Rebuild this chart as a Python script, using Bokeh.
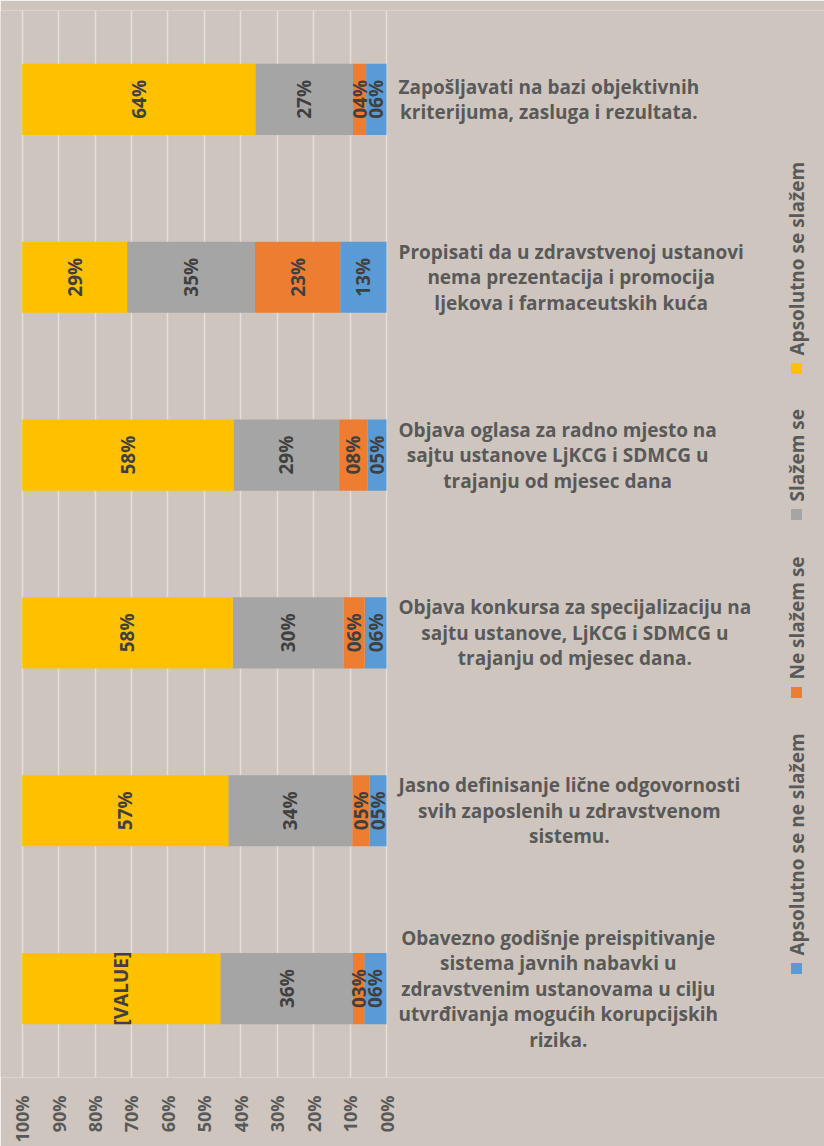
import math
from bokeh.plotting import figure
from bokeh.models import Range1d, FixedTicker, ColumnDataSource
from bokeh.core.properties import value
from bokeh.embed import file_html
from bokeh.resources import INLINE

# ---------------- data ----------------
categories = [
    "Zapošljavati na bazi objektivnih\nkriterijuma, zasluga i rezultata.",
    "Propisati da u zdravstvenoj ustanovi\nnema prezentacija i promocija\nljekova i farmaceutskih kuća",
    "Objava oglasa za radno mjesto na\nsajtu ustanove LjKCG i SDMCG u\ntrajanju od mjesec dana",
    "Objava konkursa za specijalizaciju na\nsajtu ustanove, LjKCG i SDMCG u\ntrajanju od mjesec dana.",
    "Jasno definisanje lične odgovornosti\nsvih zaposlenih u zdravstvenom\nsistemu.",
    "Obavezno godišnje preispitivanje\nsistema javnih nabavki u\nzdravstvenim ustanovama u cilju\nutvrđivanja mogućih korupcijskih\nrizika.",
]
series_names = ["Apsolutno se ne slažem", "Ne slažem se", "Slažem se", "Apsolutno se slažem"]
series_colors = ["#5b9bd5", "#ed7d31", "#a5a5a5", "#ffc000"]
apsolutno_ne = [5.6, 12.7, 5.2, 6.0, 4.7, 6.1]
ne_slazem = [3.6, 23.4, 7.8, 5.8, 4.7, 3.1]
slazem = [26.8, 35.1, 29.0, 30.4, 34.0, 36.4]
apsolutno_da = [64.0, 28.8, 58.0, 57.8, 56.6, 54.4]
label_overrides = {(5, 3): "[VALUE]"}
tick_values = [0, 10, 20, 30, 40, 50, 60, 70, 80, 90, 100]
tick_labels = ["00%", "10%", "20%", "30%", "40%", "50%", "60%", "70%", "80%", "90%", "100%"]

# ---------------- layout constants ----------------
W, H = 824, 1146
FRAME_TOP, FRAME_BOTTOM = 10, 1077
X_LEFT_PX, X_ZERO_PX = 21.7, 386.0
PPU = (X_ZERO_PX - X_LEFT_PX) / 100.0
X_START = 100 + X_LEFT_PX / PPU
X_END = -(W - X_ZERO_PX) / PPU
BG = "#cec6be"
TXT = "#595959"
FONT = value("Open Sans")


def px_x(page_x):
    return X_START - page_x / PPU


def px_y(page_y):
    return (page_y - FRAME_TOP) / (FRAME_BOTTOM - FRAME_TOP) * len(categories)


p = figure(width=W, height=H, output_backend="svg", toolbar_location=None,
           x_range=Range1d(X_START, X_END), y_range=Range1d(len(categories), 0),
           y_axis_location=None, min_border_left=0, min_border_right=0,
           min_border_top=FRAME_TOP, min_border_bottom=H - FRAME_BOTTOM)
p.background_fill_color = BG
p.border_fill_color = BG
p.outline_line_color = None

p.xgrid.ticker = FixedTicker(ticks=tick_values)
p.xgrid.grid_line_color = "#e3dfdc"
p.xgrid.grid_line_width = 1.5
p.ygrid.visible = False

ax = p.xaxis[0]
ax.ticker = FixedTicker(ticks=tick_values)
ax.major_label_overrides = {v: l for v, l in zip(tick_values, tick_labels)}
ax.major_label_orientation = math.pi / 2
ax.axis_line_color = None
ax.major_tick_line_color = None
ax.minor_tick_line_color = None
ax.major_tick_out = 0
ax.major_tick_in = 0
ax.major_label_standoff = 18
ax.major_label_text_font = "Open Sans"
ax.major_label_text_font_style = "bold"
ax.major_label_text_font_size = "18px"
ax.major_label_text_color = TXT

ys = [i + 0.5 for i in range(len(categories))]
keys = ["ne2", "ne1", "da1", "da2"]
src = ColumnDataSource(dict(y=ys, ne2=apsolutno_ne, ne1=ne_slazem, da1=slazem, da2=apsolutno_da))
p.hbar_stack(keys, y="y", height=0.4, color=series_colors, line_color=None, source=src)

# value labels in segments
lx, ly, lt = [], [], []
series = [apsolutno_ne, ne_slazem, slazem, apsolutno_da]
for i in range(len(categories)):
    cum = 0.0
    for j, s in enumerate(series):
        v = s[i]
        lx.append(cum + v / 2)
        ly.append(ys[i])
        lt.append(label_overrides.get((i, j), f"{v:02.0f}%"))
        cum += v
p.text(x=lx, y=ly, text=lt, angle=math.pi / 2, text_align="center", text_baseline="middle",
       text_font=FONT, text_font_style="bold", text_font_size="19px", text_color="#404040")

# category labels
p.text(x=[px_x(398)] * len(categories), y=ys, text=categories, anchor="center_left",
       text_align="center", text_baseline="middle", text_font=FONT, text_font_style="bold",
       text_font_size="19px", text_color=TXT, text_line_height=0.98)

# rotated legend (bottom to top)
marker_page_y = [968, 692, 514, 368]
leg_x = px_x(796)
p.scatter(x=[leg_x] * 4, y=[px_y(v) for v in marker_page_y], marker="square", size=11,
          color=series_colors, line_color=None)
p.text(x=[leg_x] * 4, y=[px_y(v - 13) for v in marker_page_y], text=series_names,
       angle=math.pi / 2, text_align="left", text_baseline="middle", text_font=FONT,
       text_font_style="bold", text_font_size="19px", text_color=TXT)

html = file_html(p, INLINE)
html = html.replace("<body>", f'<body style="background:{BG}">', 1)
open("out.html", "w").write(html)
